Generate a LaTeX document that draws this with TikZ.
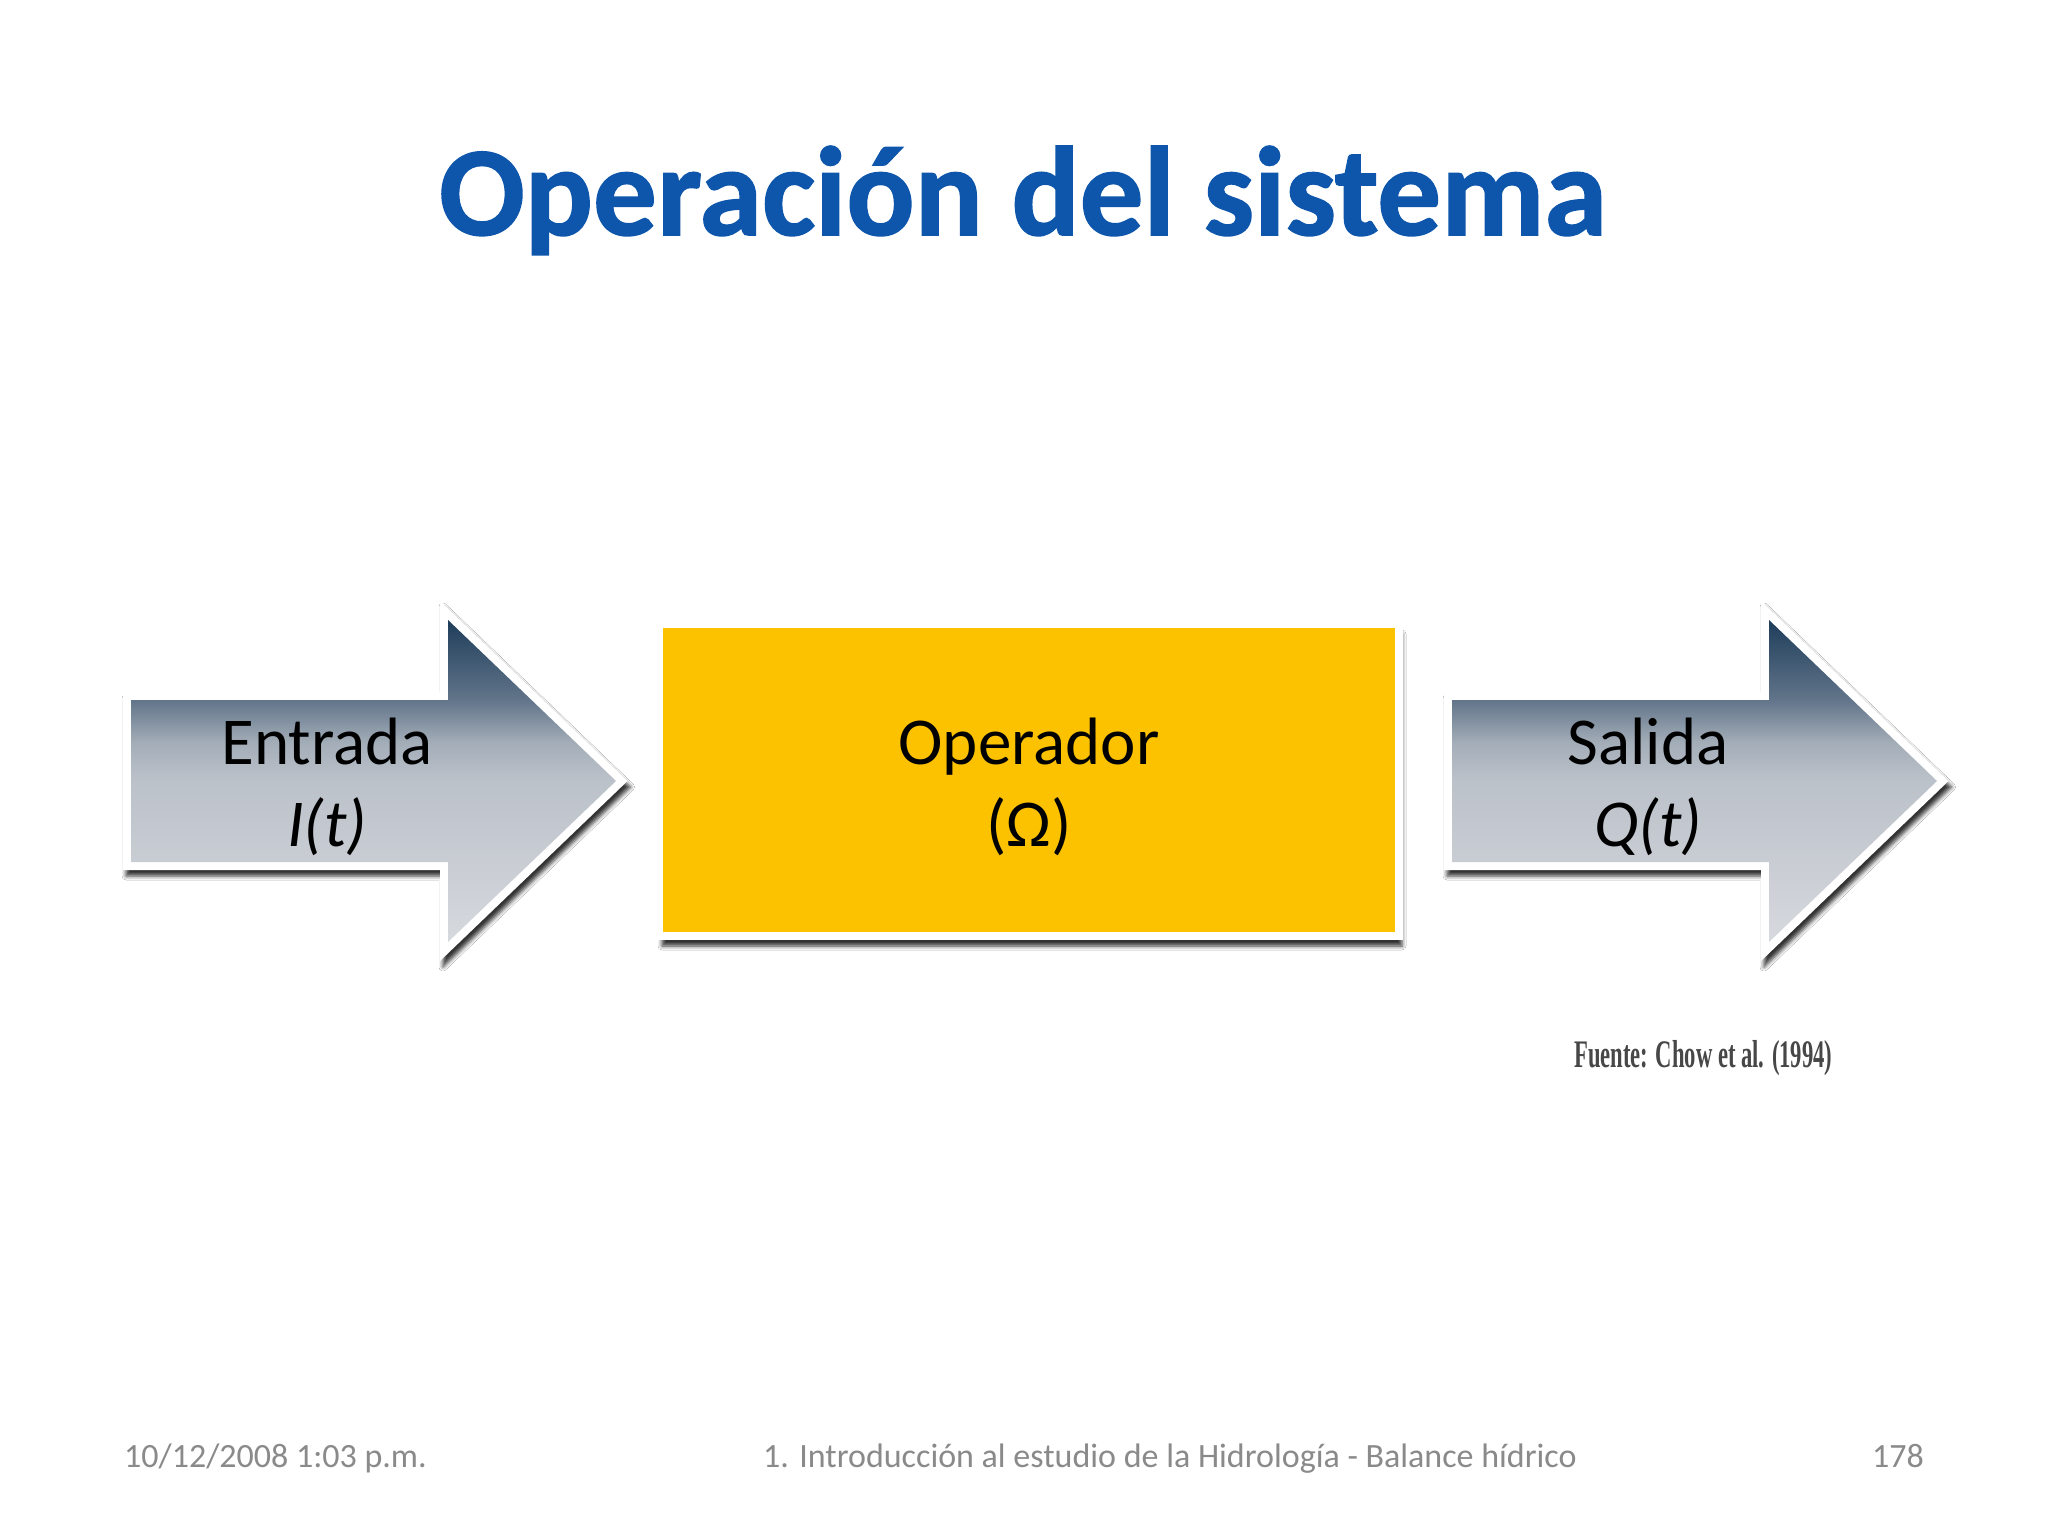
\documentclass[tikz,border=0pt]{standalone}
\usepackage{fontspec}
\setmainfont{Carlito}
\newfontfamily\titlefont[FakeBold=1.2]{Carlito Bold}
\newfontfamily\fuentefont[FakeStretch=0.58]{Liberation Serif}
\usetikzlibrary{calc}
\usetikzlibrary{shadows.blur}

\definecolor{titleblue}{HTML}{0D56AB}
\definecolor{opyellow}{HTML}{FCC200}
\definecolor{arrowdark}{HTML}{1E3D5A}
\definecolor{arrowmid}{HTML}{62758A}
\definecolor{arrowmidl}{HTML}{A3ADB8}
\definecolor{arrowlight}{HTML}{BCC2CA}
\definecolor{arrowlow}{HTML}{C6CAD1}
\definecolor{arrowpale}{HTML}{D6D9DE}
\definecolor{footgray}{HTML}{8A8A8A}
\definecolor{srcgray}{HTML}{474747}

\pgfdeclareverticalshading{arrowshade}{100bp}{color(0bp)=(arrowpale); color(25bp)=(arrowpale); color(40bp)=(arrowlow); color(50bp)=(arrowlight); color(56bp)=(arrowmidl); color(62.5bp)=(arrowmid); color(75bp)=(arrowdark); color(100bp)=(arrowdark)}

\begin{document}
\begin{tikzpicture}[x=1pt, y=-1pt,
  txtbig/.style={inner sep=0pt, anchor=base, font=\fontsize{67}{80}\selectfont},
  foot/.style={inner sep=0pt, text=footgray, font=\fontsize{34}{36}\selectfont},
  opbox/.style={rectangle, fill=opyellow, draw=white, line width=8pt, inner sep=0pt,
    minimum width=740pt, minimum height=312pt,
    blur shadow={shadow xshift=3pt, shadow yshift=-10pt, shadow blur radius=4pt, shadow opacity=80}}]
\useasboundingbox (0,0) rectangle (2048,1536);
\fill[white] (0,0) rectangle (2048,1536);

\node[inner sep=0pt, anchor=base, text=titleblue, font=\fontsize{127}{130}\titlefont] (titulo) at (1023,235) {Operación del sistema};

\foreach \xa/\nm/\ttl/\fn in {131/entrada/Entrada/I(t), 1452/salida/Salida/Q(t)} {
  \fill[white, blur shadow={shadow xshift=3pt, shadow yshift=-6pt, shadow blur radius=4pt, shadow opacity=80}]
    (\xa-8,692) -- (\xa+309,692) -- (\xa+309,601) -- (\xa+496.5,781) -- (\xa+309,961) -- (\xa+309,870) -- (\xa-8,870) -- cycle;
  \shade[shading=arrowshade]
    (\xa,700) -- (\xa+317,700) -- (\xa+317,620) -- (\xa+485,781) -- (\xa+317,942) -- (\xa+317,862) -- (\xa,862) -- cycle;
  \node[txtbig] (\nm) at (\xa+196,764) {\ttl};
  \node[txtbig, font=\fontsize{67}{80}\selectfont\itshape] (\nm-f) at (\xa+196,846) {\fn};
}

\node[opbox] (operador) at (1029,780) {};
\node[txtbig] (operador-a) at (1029,764) {Operador};
\node[txtbig] (operador-b) at (1029,846) {(Ω)};

\node[inner sep=0pt, anchor=base west, text=srcgray, font=\fontsize{39}{42}\fuentefont\bfseries] (fuente) at (1574,1067) {Fuente: Chow et al. (1994)};

\node[foot, anchor=base west] (fecha) at (124,1467) {10/12/2008 1:03 p.m.};
\node[foot, anchor=base] (pie) at (1170,1467) {1. Introducción al estudio de la Hidrología - Balance hídrico};
\node[foot, anchor=base east] (pagina) at (1924,1467) {178};
\end{tikzpicture}
\end{document}
